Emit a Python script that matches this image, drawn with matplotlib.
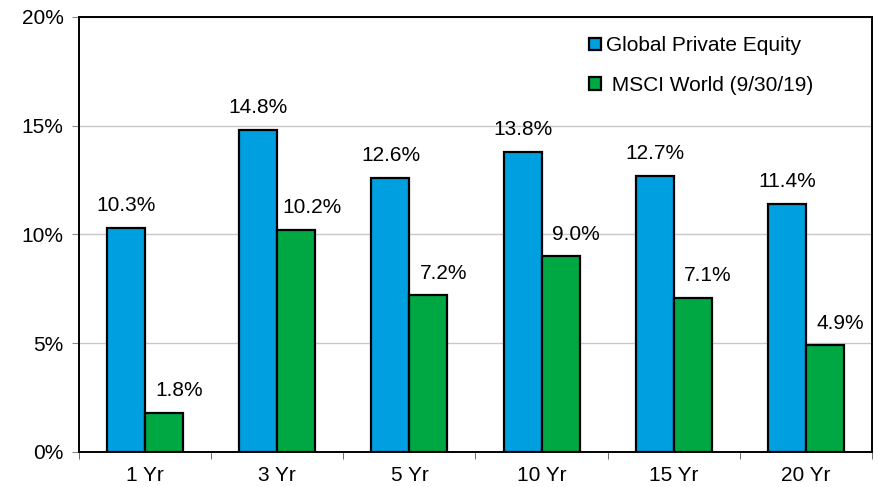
import numpy as np
import matplotlib.pyplot as plt
from matplotlib.ticker import FuncFormatter, MultipleLocator

periods = ['1 Yr', '3 Yr', '5 Yr', '10 Yr', '15 Yr', '20 Yr']
private_equity = [10.3, 14.8, 12.6, 13.8, 12.7, 11.4]
msci_world = [1.8, 10.2, 7.2, 9.0, 7.1, 4.9]
series_names = ['Global Private Equity', ' MSCI World (9/30/19)']

plt.rcParams['font.family'] = ['Liberation Sans', 'DejaVu Sans']
plt.rcParams['font.size'] = 15

fig = plt.figure(figsize=(8.79, 4.87), dpi=100)
ax = fig.add_axes([0.0899, 0.0719, 0.9021, 0.8932])

x = np.arange(len(periods))
w = 0.287
b1 = ax.bar(x - w / 2, private_equity, w, color='#009FE0', edgecolor='black',
            linewidth=1.6, label=series_names[0], zorder=3)
b2 = ax.bar(x + w / 2, msci_world, w, color='#00A843', edgecolor='black',
            linewidth=1.6, label=series_names[1], zorder=3)

# value labels above each bar
for rect, v in zip(b1, private_equity):
    ax.annotate(f'{v:.1f}%', (rect.get_x() + rect.get_width() / 2, v),
                xytext=(0, 12), textcoords='offset points',
                ha='center', va='baseline')
for rect, v in zip(b2, msci_world):
    ax.annotate(f'{v:.1f}%', (rect.get_x() + rect.get_width() / 2, v),
                xytext=(11, 12), textcoords='offset points',
                ha='center', va='baseline')

ax.set_xlim(-0.5, len(periods) - 0.5)
ax.set_ylim(0, 20)
ax.yaxis.set_major_locator(MultipleLocator(5))
ax.yaxis.set_major_formatter(FuncFormatter(lambda v, p: f'{v:.0f}%'))
ax.grid(axis='y', color='#c8c8c8', linewidth=1, zorder=0)

ax.set_xticks(x)
ax.set_xticklabels(periods)
ax.set_xticks(np.arange(-0.5, len(periods)), minor=True)
ax.tick_params(axis='x', which='major', length=0, pad=10)
ax.tick_params(axis='x', which='minor', length=5, direction='out', color='#555555')
ax.tick_params(axis='y', length=5, direction='out', color='#888888', pad=6)

for s in ax.spines.values():
    s.set_linewidth(1.4)
    s.set_color('black')

leg = ax.legend(loc='upper left', bbox_to_anchor=(0.633, 0.975), frameon=False,
                handlelength=0.55, handleheight=0.55, handletextpad=0.25,
                labelspacing=1.0, borderaxespad=0.0)
for h in leg.legend_handles:
    h.set_linewidth(1.6)

fig.savefig('out.png', dpi=100)
